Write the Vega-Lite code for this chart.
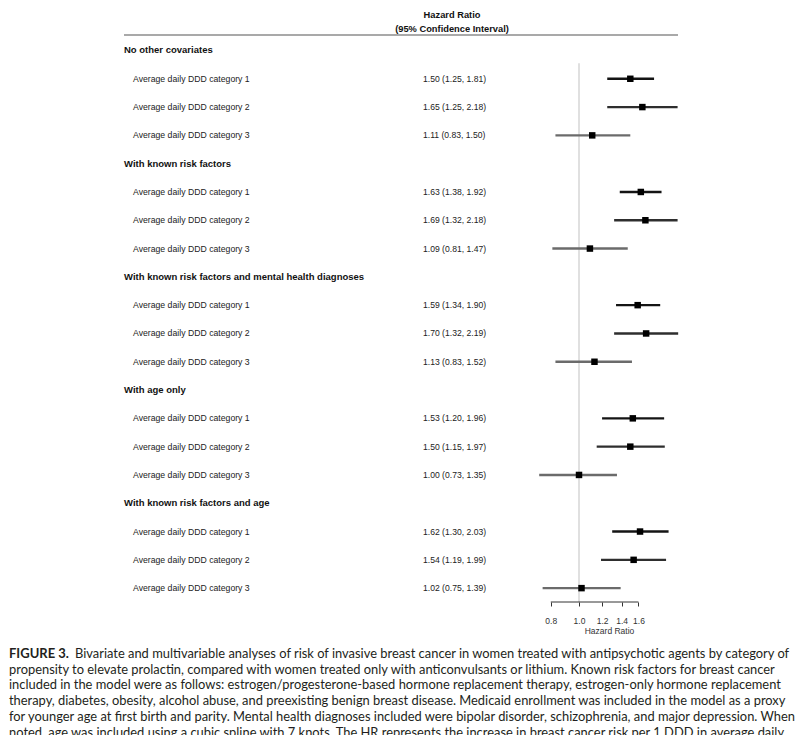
{
  "$schema": "https://vega.github.io/schema/vega-lite/v6.json",
  "autosize": {"type": "none"},
  "padding": {"left": 124, "top": 0, "right": 132, "bottom": 133},
  "width": 554,
  "height": 602,
  "background": "white",
  "config": {"view": {"stroke": null}, "font": "Liberation Sans"},
  "title": {
    "text": "FIGURE 3.",
    "subtitle": [
      "\u200b\u00a0\u00a0\u00a0\u00a0\u00a0\u00a0\u00a0\u00a0\u00a0\u00a0\u00a0\u00a0\u00a0\u00a0\u00a0\u00a0\u00a0\u00a0\u00a0\u00a0Bivariate and multivariable analyses of risk of invasive breast cancer in women treated with antipsychotic agents by category of",
      "propensity to elevate prolactin, compared with women treated only with anticonvulsants or lithium. Known risk factors for breast cancer",
      "included in the model were as follows: estrogen/progesterone-based hormone replacement therapy, estrogen-only hormone replacement",
      "therapy, diabetes, obesity, alcohol abuse, and preexisting benign breast disease. Medicaid enrollment was included in the model as a proxy",
      "for younger age at first birth and parity. Mental health diagnoses included were bipolar disorder, schizophrenia, and major depression. When",
      "noted, age was included using a cubic spline with 7 knots. The HR represents the increase in breast cancer risk per 1 DDD in average daily"
    ],
    "orient": "bottom",
    "anchor": "start",
    "frame": "group",
    "dx": -115,
    "offset": 13,
    "font": "Lato",
    "fontSize": 13,
    "fontWeight": "bold",
    "color": "#231f20",
    "lineHeight": 15.7,
    "subtitleFont": "Lato",
    "subtitleFontSize": 12.9,
    "subtitleFontWeight": "normal",
    "subtitleColor": "#231f20",
    "subtitleLineHeight": 15.7,
    "subtitlePadding": -13
  },
  "data": {
    "values": [
      {"row": 0, "level": "group", "label": "No other covariates"},
      {"row": 1, "level": "item", "label": "Average daily DDD category 1", "cat": "1", "hr": 1.50, "lo": 1.25, "hi": 1.81, "ci": "1.50 (1.25, 1.81)"},
      {"row": 2, "level": "item", "label": "Average daily DDD category 2", "cat": "2", "hr": 1.65, "lo": 1.25, "hi": 2.18, "ci": "1.65 (1.25, 2.18)"},
      {"row": 3, "level": "item", "label": "Average daily DDD category 3", "cat": "3", "hr": 1.11, "lo": 0.83, "hi": 1.50, "ci": "1.11 (0.83, 1.50)"},
      {"row": 4, "level": "group", "label": "With known risk factors"},
      {"row": 5, "level": "item", "label": "Average daily DDD category 1", "cat": "1", "hr": 1.63, "lo": 1.38, "hi": 1.92, "ci": "1.63 (1.38, 1.92)"},
      {"row": 6, "level": "item", "label": "Average daily DDD category 2", "cat": "2", "hr": 1.69, "lo": 1.32, "hi": 2.18, "ci": "1.69 (1.32, 2.18)"},
      {"row": 7, "level": "item", "label": "Average daily DDD category 3", "cat": "3", "hr": 1.09, "lo": 0.81, "hi": 1.47, "ci": "1.09 (0.81, 1.47)"},
      {"row": 8, "level": "group", "label": "With known risk factors and mental health diagnoses"},
      {"row": 9, "level": "item", "label": "Average daily DDD category 1", "cat": "1", "hr": 1.59, "lo": 1.34, "hi": 1.90, "ci": "1.59 (1.34, 1.90)"},
      {"row": 10, "level": "item", "label": "Average daily DDD category 2", "cat": "2", "hr": 1.70, "lo": 1.32, "hi": 2.19, "ci": "1.70 (1.32, 2.19)"},
      {"row": 11, "level": "item", "label": "Average daily DDD category 3", "cat": "3", "hr": 1.13, "lo": 0.83, "hi": 1.52, "ci": "1.13 (0.83, 1.52)"},
      {"row": 12, "level": "group", "label": "With age only"},
      {"row": 13, "level": "item", "label": "Average daily DDD category 1", "cat": "1", "hr": 1.53, "lo": 1.20, "hi": 1.96, "ci": "1.53 (1.20, 1.96)"},
      {"row": 14, "level": "item", "label": "Average daily DDD category 2", "cat": "2", "hr": 1.50, "lo": 1.15, "hi": 1.97, "ci": "1.50 (1.15, 1.97)"},
      {"row": 15, "level": "item", "label": "Average daily DDD category 3", "cat": "3", "hr": 1.00, "lo": 0.73, "hi": 1.35, "ci": "1.00 (0.73, 1.35)"},
      {"row": 16, "level": "group", "label": "With known risk factors and age"},
      {"row": 17, "level": "item", "label": "Average daily DDD category 1", "cat": "1", "hr": 1.62, "lo": 1.30, "hi": 2.03, "ci": "1.62 (1.30, 2.03)"},
      {"row": 18, "level": "item", "label": "Average daily DDD category 2", "cat": "2", "hr": 1.54, "lo": 1.19, "hi": 1.99, "ci": "1.54 (1.19, 1.99)"},
      {"row": 19, "level": "item", "label": "Average daily DDD category 3", "cat": "3", "hr": 1.02, "lo": 0.75, "hi": 1.39, "ci": "1.02 (0.75, 1.39)"}
    ]
  },
  "resolve": {"scale": {"x": "independent"}, "axis": {"x": "independent"}},
  "layer": [
    {
      "layer": [
        {
          "transform": [{"filter": "datum.level === 'group'"}],
          "mark": {"type": "text", "align": "left", "baseline": "middle", "fontSize": 9.5, "fontWeight": "bold", "color": "#111111"},
          "encoding": {
            "x": {"datum": "label", "type": "nominal", "scale": {"type": "point", "domain": ["label", "hr"], "range": [0, 299], "padding": 0}, "axis": null},
            "y": {"field": "row", "type": "quantitative", "scale": {"domain": [-1.784, 19.49], "reverse": true, "nice": false, "zero": false}, "axis": null},
            "text": {"field": "label"}
          }
        },
        {
          "transform": [{"filter": "datum.level === 'item'"}],
          "mark": {"type": "text", "align": "left", "baseline": "middle", "fontSize": 8.7, "dx": 9, "color": "#222222"},
          "encoding": {
            "x": {"datum": "label", "type": "nominal", "axis": null},
            "y": {"field": "row", "type": "quantitative", "axis": null},
            "text": {"field": "label"}
          }
        },
        {
          "transform": [{"filter": "datum.level === 'item'"}],
          "mark": {"type": "text", "align": "left", "baseline": "middle", "fontSize": 8.6, "color": "#222222"},
          "encoding": {
            "x": {"datum": "hr", "type": "nominal", "axis": null},
            "y": {"field": "row", "type": "quantitative", "axis": null},
            "text": {"field": "ci"}
          }
        },
        {
          "data": {"values": [{}]},
          "mark": {"type": "text", "align": "center", "baseline": "middle", "fontSize": 9.3, "fontWeight": "bold", "dx": 29, "lineHeight": 14, "color": "#111111"},
          "encoding": {
            "x": {"datum": "hr", "type": "nominal", "axis": null},
            "y": {"datum": -1.254, "type": "quantitative", "axis": null},
            "text": {"value": ["Hazard Ratio", "(95% Confidence Interval)"]}
          }
        },
        {
          "data": {"values": [{}]},
          "mark": {"type": "rule", "color": "#8c8c8c", "strokeWidth": 1.3},
          "encoding": {
            "y": {"datum": -0.548, "type": "quantitative", "axis": null}
          }
        }
      ]
    },
    {
      "layer": [
        {
          "data": {"values": [{}]},
          "mark": {"type": "rule", "color": "#d6d6d6", "strokeWidth": 1.5},
          "encoding": {
            "x": {"datum": 1, "type": "quantitative"},
            "y": {"datum": 0.45, "type": "quantitative", "axis": null},
            "y2": {"datum": 19.49}
          }
        },
        {
          "transform": [{"filter": "datum.level === 'item'"}],
          "mark": {"type": "rule", "strokeWidth": 2.4},
          "encoding": {
            "x": {
              "field": "lo", "type": "quantitative",
              "scale": {"type": "log", "domain": [0.02741, 2.187], "nice": false, "zero": false},
              "axis": {
                "values": [0.8, 1.0, 1.2, 1.4, 1.6], "format": ".1f", "domain": false, "grid": false,
                "tickSize": 4, "tickColor": "#333333", "tickWidth": 1,
                "labelFontSize": 8.5, "labelColor": "#333333", "labelPadding": 10, "labelFont": "Liberation Sans",
                "title": "Hazard Ratio", "titleFontSize": 8.5, "titleFontWeight": "normal", "titleColor": "#333333",
                "titleFont": "Liberation Sans", "titlePadding": 2, "titleX": 485
              }
            },
            "x2": {"field": "hi"},
            "y": {"field": "row", "type": "quantitative", "axis": null},
            "color": {"field": "cat", "type": "nominal", "scale": {"domain": ["1", "2", "3"], "range": ["#141414", "#2e2e2e", "#6b6b6b"]}, "legend": null}
          }
        },
        {
          "transform": [{"filter": "datum.level === 'item'"}],
          "mark": {"type": "point", "shape": "square", "filled": true, "size": 42, "color": "#000000", "opacity": 1},
          "encoding": {
            "x": {"field": "hr", "type": "quantitative"},
            "y": {"field": "row", "type": "quantitative", "axis": null}
          }
        },
        {
          "data": {"values": [{}]},
          "mark": {"type": "rule", "color": "#333333", "strokeWidth": 1},
          "encoding": {
            "x": {"datum": 0.8, "type": "quantitative"},
            "x2": {"datum": 1.6},
            "y": {"datum": 19.49, "type": "quantitative", "axis": null}
          }
        }
      ]
    }
  ]
}
